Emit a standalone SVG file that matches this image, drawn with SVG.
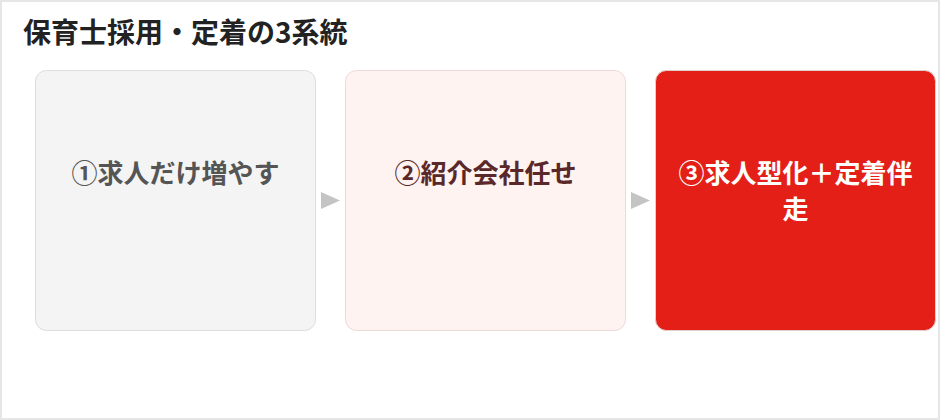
<svg xmlns="http://www.w3.org/2000/svg" width="940" height="420" viewBox="0 0 940 420">
<style>
text{font-family:"Noto Sans CJK JP","Noto Sans",sans-serif;font-weight:bold;}
.title{font-size:28px;fill:#222222;}
.lbl{font-size:26px;text-anchor:middle;}
.arrow{fill:#c4c4c4;}
</style>
<rect x="1" y="1" width="938" height="418" fill="#ffffff" stroke="#e6e6e6" stroke-width="2"/>
<text class="title" x="23" y="43">保育士採用・定着の3系統</text>
<g id="node1">
<rect x="35.5" y="70.5" width="280" height="260" rx="11" fill="#f4f4f4" stroke="#dddddd"/>
<text class="lbl" x="175.5" y="183" fill="#555555">①求人だけ増やす</text>
</g>
<g id="node2">
<rect x="345.5" y="70.5" width="280" height="260" rx="11" fill="#fff3f1" stroke="#ebdad7"/>
<text class="lbl" x="485.5" y="183" fill="#5a2828">②紹介会社任せ</text>
</g>
<g id="node3">
<rect x="655.5" y="70.5" width="280" height="260" rx="11" fill="#e41f18" stroke="#e0d0ce"/>
<text class="lbl" x="795.5" y="183" fill="#ffffff">③求人型化＋定着伴</text>
<text class="lbl" x="795.5" y="219" fill="#ffffff">走</text>
</g>
<g id="connectors">
<polygon class="arrow" points="321,192 340,200.5 321,209"/>
<polygon class="arrow" points="631,192 650,200.5 631,209"/>
</g>
</svg>
